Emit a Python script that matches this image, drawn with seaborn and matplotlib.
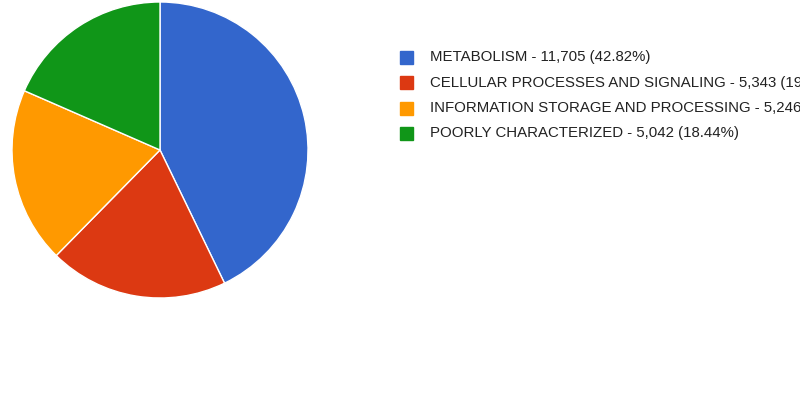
import matplotlib
matplotlib.use("Agg")
import matplotlib.pyplot as plt
import seaborn as sns
from matplotlib.patches import Rectangle

# Data
categories = ["METABOLISM", "CELLULAR PROCESSES AND SIGNALING",
              "INFORMATION STORAGE AND PROCESSING", "POORLY CHARACTERIZED"]
counts = [11705, 5343, 5246, 5042]
colors = ["#3366cc", "#dc3912", "#ff9900", "#109618"]

sns.set_theme(style="white")
plt.rcParams['font.family'] = ['Liberation Sans', 'DejaVu Sans']

W, H = 800, 400
fig = plt.figure(figsize=(8, 4), dpi=100)

# pie: center ~ (160,150) px, radius ~148 px
cx, cy, r = 160, 150, 148
ax = fig.add_axes([(cx - r) / W, (H - cy - r) / H, 2 * r / W, 2 * r / H])
ax.pie(counts, colors=colors, startangle=90, counterclock=False, radius=1,
       wedgeprops=dict(edgecolor="white", linewidth=1))
ax.set_xlim(-1, 1)
ax.set_ylim(-1, 1)
ax.set_aspect("equal")
ax.axis("off")

# legend, built by hand so it runs off the right edge like the original
total = sum(counts)
row_y = [57, 82.5, 108, 133]
for name, n, c, y in zip(categories, counts, colors, row_y):
    fig.patches.append(Rectangle((400 / W, (H - y - 6.5) / H), 13 / W, 13 / H,
                                 transform=fig.transFigure, color=c))
    label = f"{name} - {n:,} ({n / total * 100:.2f}%)"
    fig.text(430 / W, (H - y) / H, label, fontsize=10.8, color="#222222",
             va="center", ha="left")

fig.savefig("out.png", dpi=100)
